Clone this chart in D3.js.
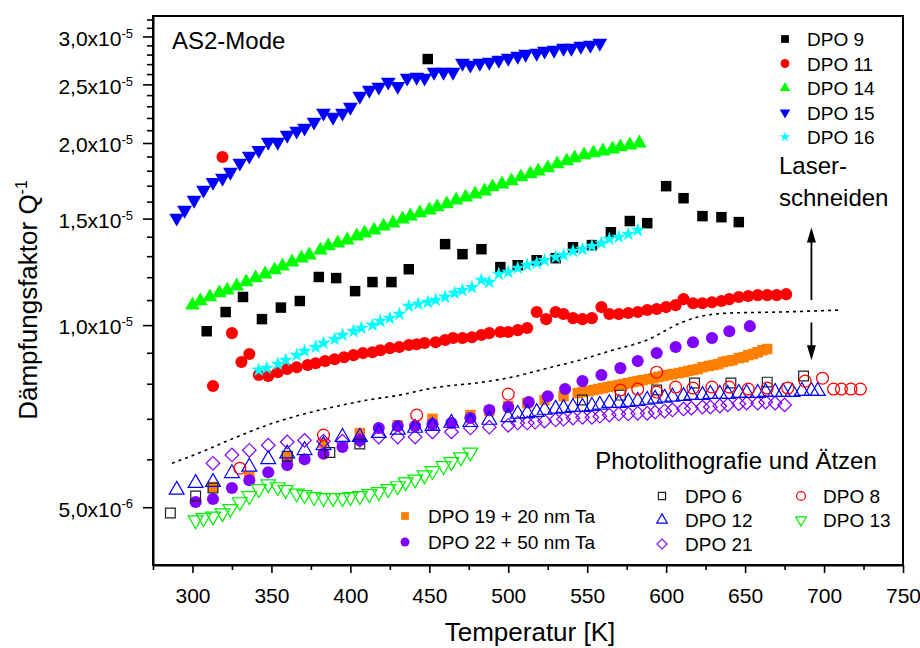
<!DOCTYPE html>
<html><head><meta charset="utf-8">
<script src="https://cdn.jsdelivr.net/npm/d3@7"></script>
<style>
html,body{margin:0;padding:0;background:#fff;}
svg text{font-family:"Liberation Sans",Arial,Helvetica,sans-serif;fill:#000;}
</style></head><body>
<svg id="chart" width="920" height="648"></svg>
<script>
// Temperatures in K, damping Q^-1 in units of 1e-6
const dpo9T = [309,321,332,344,356,368,380,391,403,414,426,437,449,460,471,483,495,506,518,530,541,553,565,577,588,600,611,623,635,646];
const dpo9Q = [9.77,10.51,11.13,10.23,10.69,10.96,12.01,11.96,11.38,11.78,11.78,12.37,27.53,13.61,13.10,13.35,12.47,12.56,12.80,12.90,13.45,13.56,14.24,14.86,14.74,16.97,16.21,15.14,15.08,14.80];

const dpo11T = [313,319,325,331,336,342,348,354,360,366,373,378,384,390,396,402,408,414,419,425,431,437,442,447,454,460,465,471,477,483,488,495,500,506,512,518,524,530,535,541,547,553,559,564,570,576,582,588,594,600,606,611,617,623,629,635,640,646,652,658,664,670,676];
const dpo11Q = [7.93,18.96,9.70,8.69,8.96,8.27,8.24,8.36,8.46,8.52,8.59,8.65,8.72,8.78,8.85,8.92,8.99,9.02,9.09,9.16,9.20,9.27,9.30,9.34,9.37,9.45,9.52,9.52,9.55,9.63,9.70,9.74,9.74,9.81,9.89,10.51,10.23,10.51,10.43,10.27,10.23,10.27,10.71,10.43,10.43,10.47,10.51,10.59,10.63,10.71,10.79,11.04,10.87,10.87,10.91,10.96,11.04,11.13,11.17,11.21,11.21,11.21,11.25];

const dpo14T = [300,305,311,317,322,328,334,340,346,352,357,363,369,374,381,386,392,398,404,409,415,421,427,433,438,444,450,455,461,467,473,479,485,490,496,502,508,514,519,525,531,537,542,548,554,560,566,571,577,583];
const dpo14Q = [10.79,10.96,11.13,11.30,11.42,11.60,11.78,11.96,12.14,12.33,12.51,12.71,12.90,13.05,13.30,13.51,13.66,13.82,14.03,14.19,14.35,14.57,14.74,14.97,15.14,15.32,15.49,15.67,15.85,16.09,16.27,16.46,16.65,16.91,17.10,17.30,17.57,17.77,17.97,18.18,18.46,18.67,18.89,19.10,19.25,19.39,19.54,19.69,19.84,19.99];

const dpo15T = [290,295,301,307,313,319,324,330,336,342,348,354,360,366,371,377,383,389,395,400,406,412,418,424,430,436,442,447,453,459,465,471,476,482,488,494,500,506,511,518,523,529,535,540,546,552,558];
const dpo15Q = [15.03,15.49,16.09,16.72,17.23,17.50,17.90,18.53,19.03,19.46,20.07,20.07,20.61,20.93,21.17,21.66,22.42,22.07,22.42,22.93,23.91,24.46,24.75,25.22,24.83,25.61,25.70,25.61,26.19,26.19,26.19,27.11,26.91,27.11,27.21,27.42,27.63,27.84,28.05,28.16,28.38,28.48,28.70,28.70,28.92,29.03,29.25];

const dpo16T = [342,347,354,359,366,371,378,383,390,395,402,407,414,419,425,431,437,443,449,454,460,466,471,477,483,488,494,500,506,512,518,523,530,535,541,547,553,559,564,570,576,582];
const dpo16Q = [8.43,8.49,8.62,8.75,8.92,9.06,9.20,9.34,9.48,9.63,9.77,9.89,10.00,10.15,10.27,10.43,10.75,10.83,10.91,11.00,11.13,11.30,11.42,11.55,11.87,11.78,12.14,12.24,12.42,12.56,12.66,12.80,12.95,13.05,13.25,13.35,13.51,13.66,13.87,13.98,14.14,14.35];

const dpo19T = [313,336,360,383,406,430,452,476,488,500,512,523,535,544,547,551,554,557,560,563,566,570,573,576,579,582,585,589,592,595,598,601,604,608,611,614,617,620,623,627,630,633,636,639,642,646,649,652,655,658,661,664];
const dpo19Q = [5.40,5.61,6.05,6.38,6.63,6.83,7.00,7.10,7.21,7.35,7.43,7.52,7.63,7.72,7.75,7.78,7.81,7.84,7.87,7.90,7.93,7.96,7.99,8.02,8.05,8.08,8.11,8.14,8.17,8.21,8.24,8.27,8.30,8.33,8.36,8.40,8.43,8.46,8.52,8.56,8.59,8.62,8.69,8.72,8.75,8.82,8.85,8.92,8.96,9.02,9.09,9.13];

const dpo22T = [302,313,325,336,348,360,371,383,395,406,418,430,441,452,464,476,488,500,513,525,536,547,559,571,582,594,606,617,629,640,653];
const dpo22Q = [5.10,5.16,5.38,5.54,5.71,5.87,6.00,6.13,6.29,6.45,6.76,6.81,6.81,6.86,6.89,7.02,7.24,7.32,7.46,7.63,7.84,8.08,8.27,8.49,8.72,8.99,9.20,9.37,9.52,9.77,9.96];

const dpo6T = [286,302,313,360,387,406,547,571,594,618,641,664,687];
const dpo6Q = [4.89,5.22,5.38,6.07,6.16,6.36,7.52,7.66,7.81,8.02,8.02,8.05,8.24];

const dpo12T = [290,302,313,325,336,348,360,371,383,395,406,418,430,441,452,464,476,488,500,506,512,518,523,530,535,541,547,553,558,564,570,576,582,588,593,599,604,611,616,623,628,634,639,646,651,658,663,669,674,680,686,692,696];
const dpo12Q = [5.34,5.48,5.50,5.69,5.83,6.00,6.13,6.21,6.33,6.53,6.53,6.63,6.71,6.76,6.81,6.89,6.91,6.97,7.04,7.13,7.15,7.18,7.24,7.27,7.29,7.32,7.32,7.35,7.38,7.43,7.43,7.46,7.49,7.52,7.55,7.58,7.61,7.63,7.66,7.66,7.69,7.69,7.69,7.72,7.72,7.72,7.75,7.75,7.75,7.75,7.78,7.78,7.78];

const dpo21T = [313,325,336,348,360,371,383,395,406,418,430,441,452,464,476,488,500,506,512,517,523,530,535,541,547,553,558,564,570,576,582,588,593,599,604,611,616,623,628,634,639,646,651,658,663,669,675];
const dpo21Q = [5.91,6.10,6.21,6.33,6.41,6.45,6.43,6.43,6.45,6.53,6.53,6.53,6.66,6.66,6.76,6.78,6.83,6.89,6.89,6.91,6.94,6.97,6.99,7.02,7.04,7.04,7.07,7.10,7.13,7.13,7.15,7.15,7.18,7.21,7.24,7.27,7.29,7.32,7.32,7.35,7.38,7.41,7.43,7.43,7.46,7.43,7.38];

const dpo8T = [330,383,442,500,571,582,594,594,606,617,629,640,652,664,677,688,699,706,711,717,723];
const dpo8Q = [5.80,6.58,7.10,7.69,7.81,7.84,8.36,7.75,7.90,7.87,7.90,7.90,7.84,7.87,7.87,8.08,8.17,7.84,7.84,7.84,7.84];

const dpo13T = [302,307,313,319,324,330,336,342,348,354,359,366,371,377,383,389,395,400,406,412,418,424,430,435,441,447,452,459,464,470,476];
const dpo13Q = [4.76,4.80,4.83,4.89,4.97,5.10,5.22,5.36,5.46,5.40,5.34,5.27,5.24,5.20,5.18,5.18,5.18,5.20,5.22,5.26,5.30,5.36,5.42,5.50,5.56,5.65,5.74,5.85,5.94,6.05,6.16];

// dotted guide line separating the two groups
const guideT = [287,305,326,347,368,389,411,431,452,484,503,525,545,566,588,609,620,640,672,710];
const guideQ = [5.91,6.16,6.50,6.83,7.10,7.32,7.52,7.66,7.87,8.05,8.21,8.49,8.75,9.09,9.45,10.08,10.31,10.47,10.51,10.59];

// arrow annotation (T, Q from -> tip)
const arrowT = 692;
const arrowUpQ = [11.0, 14.5];
const arrowDownQ = [10.1, 8.75];

// axes ticks
const xTicksMajor = [300,350,400,450,500,550,600,650,700,750];
const xTicksMinor = [275,325,375,425,475,525,575,625,675,725];
const yTicksMajor = [5,10,15,20,25,30];
const yTickMant = ["5,0","1,0","1,5","2,0","2,5","3,0"];
const yTickExp = ["-6","-5","-5","-5","-5","-5"];
const yTicksMinor = [6,7,8,9,11,12,13,14,16,17,18,19,21,22,23,24,26,27,28,29,31,32];

const svg = d3.select("#chart");
const L = 153, R = 903, T = 16, B = 565;
const x = d3.scaleLinear().domain([275,750]).range([L,R]);
const y = d3.scaleLog().domain([4.013,32.43]).range([B,T]);

const FONT = '"Liberation Sans",Arial,Helvetica,sans-serif';

// marker definitions
const sym = {
  sqF:  {type:d3.symbolSquare, size:110, rot:0},
  cirF: {type:d3.symbolCircle, size:115, rot:0},
  triU: {type:d3.symbolTriangle, size:95, rot:0},
  triD: {type:d3.symbolTriangle, size:95, rot:180},
  star: {type:d3.symbolStar, size:66, rot:0},
  sqO:  {type:d3.symbolSquare, size:95, rot:0},
  diaO: {type:d3.symbolSquare, size:92, rot:45},
  cirO: {type:d3.symbolCircle, size:110, rot:0}
};

const series = [
  {T:dpo9T,  Q:dpo9Q,  s:"sqF",  fill:"#000000", stroke:"none"},
  {T:dpo11T, Q:dpo11Q, s:"cirF", fill:"#ff0000", stroke:"none"},
  {T:dpo14T, Q:dpo14Q, s:"triU", fill:"#00ff00", stroke:"none"},
  {T:dpo15T, Q:dpo15Q, s:"triD", fill:"#0000ff", stroke:"none"},
  {T:dpo16T, Q:dpo16Q, s:"star", fill:"#00ffff", stroke:"none"},
  {T:dpo19T, Q:dpo19Q, s:"sqF",  fill:"#ff8000", stroke:"none"},
  {T:dpo22T, Q:dpo22Q, s:"cirF", fill:"#8000ff", stroke:"none"},
  {T:dpo6T,  Q:dpo6Q,  s:"sqO",  fill:"none", stroke:"#222222"},
  {T:dpo21T, Q:dpo21Q, s:"diaO", fill:"none", stroke:"#8000ff"},
  {T:dpo12T, Q:dpo12Q, s:"triU", fill:"none", stroke:"#0000ff"},
  {T:dpo8T,  Q:dpo8Q,  s:"cirO", fill:"none", stroke:"#ff0000"},
  {T:dpo13T, Q:dpo13Q, s:"triD", fill:"none", stroke:"#00ee00"}
];

// axes
function styleAxis(g, fs){
  g.attr("font-family", FONT).attr("font-size", fs);
  g.selectAll(".tick line").attr("stroke","#000").attr("stroke-width",1.6);
  g.selectAll(".tick text").attr("fill","#000");
}
const gx = svg.append("g").attr("transform",`translate(0,${B})`)
  .call(d3.axisBottom(x).tickValues(xTicksMajor).tickSize(8).tickSizeOuter(0).tickPadding(15).tickFormat(d3.format("d")));
styleAxis(gx, 21);
gx.select(".domain").attr("stroke","#000").attr("stroke-width",2);
const gxm = svg.append("g").attr("transform",`translate(0,${B})`)
  .call(d3.axisBottom(x).tickValues(xTicksMinor).tickSize(5).tickSizeOuter(0).tickFormat(""));
styleAxis(gxm, 10); gxm.select(".domain").remove();

const gy = svg.append("g").attr("transform",`translate(${L},0)`)
  .call(d3.axisLeft(y).tickValues(yTicksMajor).tickSize(10).tickSizeOuter(0).tickPadding(10).tickFormat(""));
styleAxis(gy, 21);
gy.select(".domain").attr("stroke","#000").attr("stroke-width",2);
gy.selectAll(".tick text").each(function(d){
  const i = yTicksMajor.indexOf(d);
  const t = d3.select(this).attr("dy","0.42em");
  t.text(null);
  t.append("tspan").text(yTickMant[i] + "x10");
  t.append("tspan").attr("dy","-0.62em").attr("font-size","13px").text(yTickExp[i]);
});
const gym = svg.append("g").attr("transform",`translate(${L},0)`)
  .call(d3.axisLeft(y).tickValues(yTicksMinor).tickSize(6).tickSizeOuter(0).tickFormat(""));
styleAxis(gym, 10); gym.select(".domain").remove();

// frame
svg.append("rect").attr("x",L).attr("y",T).attr("width",R-L).attr("height",B-T)
  .attr("fill","none").attr("stroke","#000").attr("stroke-width",2);

// dotted guide
const guide = guideT.map((t,i)=>[t,guideQ[i]]);
svg.append("path").datum(guide)
  .attr("d", d3.line().x(d=>x(d[0])).y(d=>y(d[1])).curve(d3.curveMonotoneX))
  .attr("fill","none").attr("stroke","#000").attr("stroke-width",1.6).attr("stroke-dasharray","3,4");

// data
const plot = svg.append("g");
series.forEach(sr=>{
  const def = sym[sr.s];
  const pts = sr.T.map((t,i)=>({t, q:sr.Q[i]}));
  plot.append("g").selectAll("path").data(pts).join("path")
    .attr("d", d3.symbol().type(def.type).size(def.size))
    .attr("transform", d=>`translate(${x(d.t)},${y(d.q)}) rotate(${def.rot})`)
    .attr("fill", sr.fill)
    .attr("stroke", sr.stroke)
    .attr("stroke-width", sr.fill==="none" ? 1.2 : 0);
});

// arrows
function arrow(q0, q1){
  const xa = x(arrowT), y0 = y(q0), y1 = y(q1);
  const dir = y1 < y0 ? 1 : -1; // 1 = pointing up
  const headL = 15, headW = 4.5;
  svg.append("line").attr("x1",xa).attr("x2",xa).attr("y1",y0).attr("y2",y1 + dir*headL*0.8)
    .attr("stroke","#000").attr("stroke-width",1.8);
  svg.append("path")
    .attr("d",`M${xa},${y1} L${xa-headW},${y1+dir*headL} L${xa+headW},${y1+dir*headL} Z`)
    .attr("fill","#000");
}
arrow(arrowUpQ[0], arrowUpQ[1]);
arrow(arrowDownQ[0], arrowDownQ[1]);

// texts
function txt(xp, yp, s, fs, anchor){
  return svg.append("text").attr("x",xp).attr("y",yp).attr("font-size",fs)
    .attr("text-anchor",anchor||"start").attr("font-family",FONT).text(s);
}
txt(172, 49, "AS2-Mode", 24);
txt(779, 174, "Laser-", 24);
txt(779, 206, "schneiden", 24);
txt(736, 469, "Photolithografie und Ätzen", 24, "middle");

// axis titles
txt((L+R)/2 + 2, 641, "Temperatur [K]", 26, "middle");
const yt = svg.append("text").attr("transform","translate(37,300) rotate(-90)")
  .attr("text-anchor","middle").attr("font-size",26).attr("font-family",FONT);
yt.append("tspan").text("Dämpfungsfaktor Q");
yt.append("tspan").attr("dy","-0.6em").attr("font-size","16px").text("-1");

// legends
const legSym = {
  sqF:{type:d3.symbolSquare,size:60,rot:0}, cirF:{type:d3.symbolCircle,size:62,rot:0},
  triU:{type:d3.symbolTriangle,size:48,rot:0}, triD:{type:d3.symbolTriangle,size:48,rot:180},
  star:{type:d3.symbolStar,size:34,rot:0}, sqO:{type:d3.symbolSquare,size:52,rot:0},
  diaO:{type:d3.symbolSquare,size:50,rot:45}, cirO:{type:d3.symbolCircle,size:62,rot:0}
};
function legendItem(mx, my, tx, label, sr){
  const def = legSym[sr.s];
  svg.append("path").attr("d", d3.symbol().type(def.type).size(def.size)())
    .attr("transform",`translate(${mx},${my}) rotate(${def.rot})`)
    .attr("fill", sr.fill).attr("stroke", sr.stroke).attr("stroke-width", sr.fill==="none"?1.2:0);
  txt(tx, my + 7, label, 19);
}
const topLabels = ["DPO 9","DPO 11","DPO 14","DPO 15","DPO 16"];
topLabels.forEach((lab,i)=> legendItem(785, 39 + i*24.5, 807, lab, series[i]));
legendItem(405, 516, 428, "DPO 19 + 20 nm Ta", series[5]);
legendItem(405, 542, 428, "DPO 22 + 50 nm Ta", series[6]);
legendItem(662, 496, 685, "DPO 6", series[7]);
legendItem(662, 520, 685, "DPO 12", series[9]);
legendItem(662, 544, 685, "DPO 21", series[8]);
legendItem(801, 496, 823, "DPO 8", series[10]);
legendItem(801, 520, 823, "DPO 13", series[11]);
</script>
</body></html>
